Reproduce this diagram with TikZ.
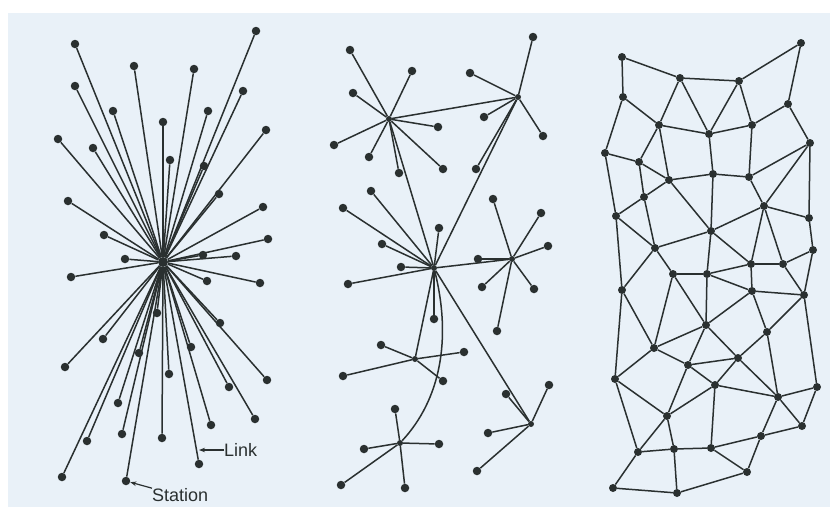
\documentclass[tikz,border=0pt]{standalone}
\usepackage{fontspec}
\setmainfont{Liberation Sans}
\usetikzlibrary{arrows.meta}
\definecolor{paper}{RGB}{233,241,248}
\definecolor{ink}{RGB}{42,48,48}
\tikzset{
  stn/.style={circle,fill=ink,inner sep=0pt,minimum size=8.5pt},
  hub/.style={circle,fill=ink,inner sep=0pt,minimum size=6pt},
  link/.style={draw=ink,line width=1.5pt},
  tag/.style={font=\fontsize{18}{20}\selectfont,text=ink,inner sep=0pt,anchor=west},
}
\begin{document}
\begin{tikzpicture}[x=1pt,y=-1pt]
\useasboundingbox (0,0) rectangle (830,507);
\fill[white] (0,0) rectangle (830,507);
\fill[paper] (8,13) rectangle (830,507);

% centralized
\node[hub,minimum size=10pt] (h) at (163,262) {};
\foreach \i/\x/\y in {1/75/44, 2/256/31, 3/134/66, 4/194/69, 5/75/86, 6/243/91,
  7/113/111, 8/208/111, 9/163/122, 10/266/130, 11/58/139, 12/93/148,
  13/170/160, 14/204/166, 15/219/194, 16/68/201, 17/263/207, 18/104/235,
  19/268/239, 20/125/259, 21/203/255, 22/236/256, 23/71/277, 24/207/281,
  25/260/283, 26/157/313, 27/220/323, 28/103/339, 29/191/347, 30/139/353,
  31/65/367, 32/169/374, 33/267/380, 34/229/387, 35/118/403, 36/255/419,
  37/211/425, 38/122/434, 39/162/438, 40/87/441, 41/199/464, 42/62/477,
  43/126/481}
  \node[stn] (c\i) at (\x,\y) {};
\foreach \i in {1,...,43}
  \draw[link] (h) -- (c\i);

% decentralized
\node[hub] (dA) at (389,119) {};
\node[hub] (dB) at (518,97) {};
\node[hub] (dC) at (434,268) {};
\node[hub] (dD) at (512,259) {};
\node[hub] (dE) at (415,359) {};
\node[hub] (dF) at (400,443) {};
\node[hub] (dG) at (531,424) {};
\foreach \h/\x/\y [count=\k] in {dA/350/50, dA/412/71, dA/353/93, dA/334/145,
  dA/369/157, dA/399/173, dA/438/127, dA/443/169,
  dB/533/37, dB/470/73, dB/484/117, dB/543/136, dB/476/169,
  dC/371/191, dC/343/208, dC/439/228, dC/382/244, dC/401/267, dC/348/284, dC/434/319,
  dD/493/199, dD/541/213, dD/548/246, dD/478/259, dD/482/287, dD/534/289, dD/497/331,
  dE/381/345, dE/464/352, dE/343/376, dE/443/381,
  dF/395/409, dF/439/444, dF/364/449, dF/341/485, dF/405/488,
  dG/506/394, dG/549/385, dG/488/433, dG/477/471}
  {\node[stn] (s\k) at (\x,\y) {};
   \draw[link] (\h) -- (s\k);}
\draw[link] (dA) -- (dB);
\draw[link] (dA) -- (dC);
\draw[link] (dB) -- (dC);
\draw[link] (dC) -- (dD);
\draw[link] (dC) -- (dE);
\draw[link] (dC) -- (dG);
\draw[link] (dC) .. controls (452,340) and (440,400) .. (dF);

% distributed
\foreach \i/\x/\y in {1/622/57, 2/801/43, 3/680/78, 4/739/81, 5/623/97,
  6/788/104, 7/659/125, 8/752/125, 9/709/134, 10/810/143, 11/605/153,
  12/639/162, 13/713/174, 14/749/177, 15/669/180, 16/644/197, 17/764/206,
  18/616/216, 19/809/218, 20/711/231, 21/655/248, 22/813/250, 23/751/264,
  24/783/264, 25/673/274, 26/707/274, 27/622/290, 28/752/291, 29/804/295,
  30/706/325, 31/767/332, 32/654/348, 33/738/358, 34/688/365, 35/615/379,
  36/715/385, 37/817/387, 38/778/397, 39/667/416, 40/802/426, 41/761/436,
  42/638/452, 43/674/449, 44/711/448, 45/747/472, 46/613/488, 47/677/493}
  \node[stn,minimum size=8pt] (m\i) at (\x,\y) {};
\foreach \a/\b in {1/3, 1/5, 3/4, 4/2, 2/6, 5/7, 5/11, 3/7, 3/9, 4/9, 4/8,
  6/8, 6/10, 7/9, 9/8, 7/12, 7/15, 9/13, 8/14, 11/12, 11/18, 12/15, 12/16,
  15/13, 13/14, 14/10, 10/17, 16/15, 16/18, 15/20, 13/20, 14/17, 17/19,
  10/19, 16/21, 18/21, 21/20, 20/17, 19/22, 18/27, 21/25, 21/27, 20/26,
  20/23, 17/23, 17/24, 22/24, 22/29, 25/26, 26/23, 23/24, 23/28, 26/28,
  28/29, 24/29, 25/32, 25/30, 26/30, 28/30, 28/31, 29/31, 29/37, 27/32,
  27/35, 30/32, 30/34, 30/33, 31/33, 31/38, 32/34, 32/35, 33/34, 33/36,
  33/38, 34/36, 34/39, 35/39, 35/42, 36/39, 36/38, 36/44, 38/37, 38/40,
  37/40, 38/41, 40/41, 39/42, 39/43, 42/43, 43/44, 44/41, 44/45, 41/45,
  42/46, 46/47, 43/47, 47/45}
  \draw[link] (m\a) -- (m\b);

% labels
\node[tag] (lk) at (224,450) {Link};
\coordinate (lkp) at (199,450);
\draw[link,line width=1.2pt,-{Stealth[length=6pt,width=4.5pt]}] (lk.west) -- (lkp);
\node[tag] (st) at (152,495) {Station};
\draw[link,line width=1.2pt,-{Stealth[length=6pt,width=4.5pt]}] (st.north west) -- (c43);
\end{tikzpicture}
\end{document}
